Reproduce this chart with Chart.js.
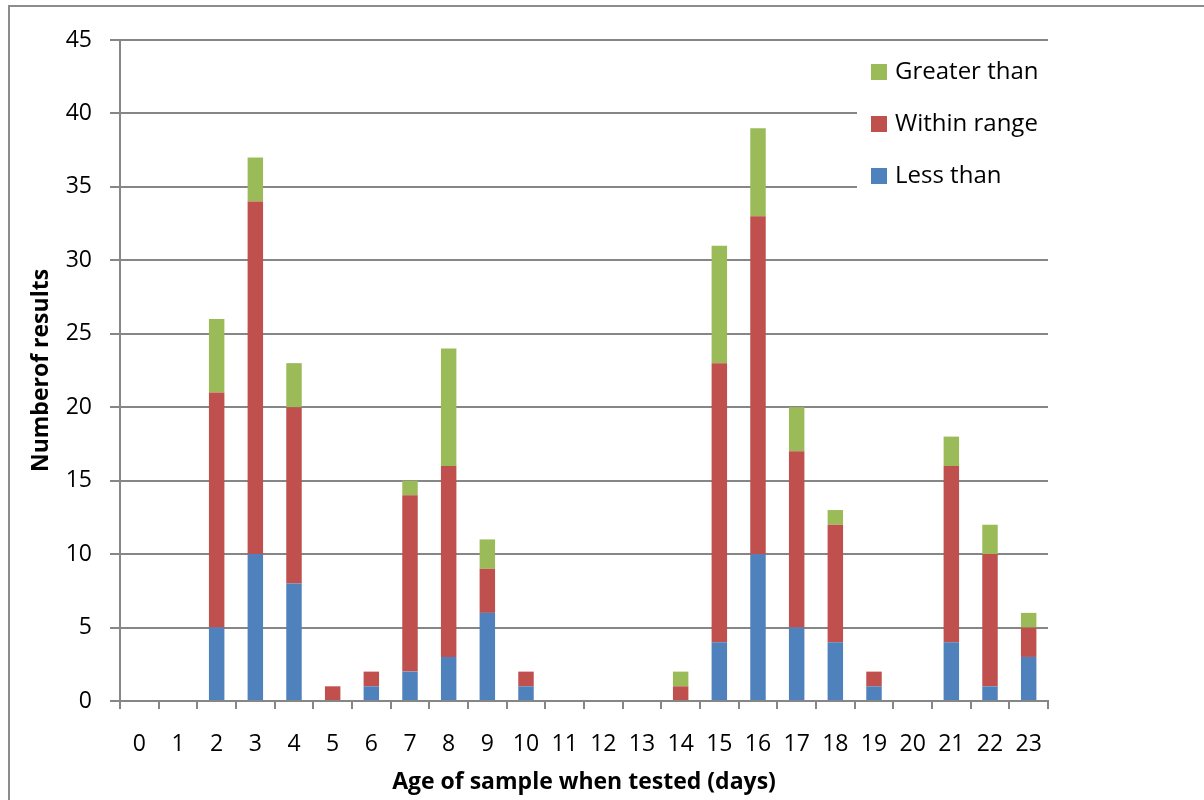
<!DOCTYPE html>
<html>
<head>
<meta charset="utf-8">
<script src="https://cdn.jsdelivr.net/npm/chart.js@4"></script>
<style>
  html, body { margin: 0; padding: 0; background: #fff; }
  #wrap { width: 1204px; height: 800px; }
</style>
</head>
<body>
<div id="wrap"><canvas id="myChart" width="1204" height="800"></canvas></div>
<script>
let days = ['0','1','2','3','4','5','6','7','8','9','10','11','12','13','14','15','16','17','18','19','20','21','22','23'];
let lessThan    = [0, 0, 5, 10, 8, 0, 1, 2, 3, 6, 1, 0, 0, 0, 0, 4, 10, 5, 4, 1, 0, 4, 1, 3];
let withinRange = [0, 0, 16, 24, 12, 1, 1, 12, 13, 3, 1, 0, 0, 0, 1, 19, 23, 12, 8, 1, 0, 12, 9, 2];
let greaterThan = [0, 0, 5, 3, 3, 0, 0, 1, 8, 2, 0, 0, 0, 0, 1, 8, 6, 3, 1, 0, 0, 2, 2, 1];
let yTicks = [0, 5, 10, 15, 20, 25, 30, 35, 40, 45];

const FONT = "'Open Sans', 'Noto Sans', sans-serif";
const GRID = '#868686';

// outer frame and legend drawn by hand, legend sits inside plot area top right
const extras = {
    id: 'extras',
    beforeDraw(chart) {
        const c = chart.ctx;
        c.save();
        c.strokeStyle = '#8c8c8c';
        c.lineWidth = 2;
        c.strokeRect(9, 6, 1300, 900);
        c.restore();
    },
    afterDraw(chart) {
        const c = chart.ctx;
        c.save();
        c.fillStyle = '#fff';
        c.fillRect(857, 46, 200, 160);
        const items = [chart.data.datasets[2], chart.data.datasets[1], chart.data.datasets[0]];
        c.font = '24px ' + FONT;
        c.textBaseline = 'middle';
        items.forEach((ds, i) => {
            const y = 72 + i * 52;
            c.fillStyle = ds.backgroundColor;
            c.fillRect(871, y - 8, 16, 16);
            c.fillStyle = '#000';
            c.fillText(ds.label, 895, y);
        });
        c.restore();
    }
};

var ctx = document.getElementById('myChart').getContext('2d');
var chart = new Chart(ctx, {
    type: 'bar',
    data: {
        labels: days,
        datasets: [
            { label: 'Less than', data: lessThan, backgroundColor: '#4F81BD' },
            { label: 'Within range', data: withinRange, backgroundColor: '#C0504D' },
            { label: 'Greater than', data: greaterThan, backgroundColor: '#9BBB59' }
        ]
    },
    options: {
        responsive: false,
        animation: false,
        layout: { padding: { left: 8, right: 156, top: 40, bottom: 0 } },
        datasets: { bar: { categoryPercentage: 1, barPercentage: 0.4 } },
        plugins: { legend: { display: false }, tooltip: { enabled: false } },
        scales: {
            x: {
                stacked: true,
                afterFit(s) { s.height = 99; },
                grid: { offset: true, drawOnChartArea: false, color: GRID, lineWidth: 2, tickLength: 8 },
                border: { color: GRID, width: 2 },
                ticks: { color: '#000', font: { family: FONT, size: 23 }, padding: 22, maxRotation: 0, autoSkip: false },
                title: { display: true, text: 'Age of sample when tested (days)', color: '#000',
                         font: { family: FONT, size: 23, weight: 'bold' }, padding: { top: 0, bottom: 4 } }
            },
            y: {
                stacked: true,
                min: 0, max: 45,
                afterFit(s) { s.width = 112; },
                afterBuildTicks(s) { s.ticks = yTicks.map(v => ({ value: v })); },
                grid: { color: GRID, lineWidth: 2, tickLength: 10 },
                border: { color: GRID, width: 2 },
                ticks: { color: '#000', font: { family: FONT, size: 23 }, padding: 18 },
                title: { display: true, text: 'Numberof results', color: '#000',
                         font: { family: FONT, size: 23, weight: 'bold' }, padding: { top: 20, bottom: 0 } }
            }
        }
    },
    plugins: [extras]
});
</script>
</body>
</html>
